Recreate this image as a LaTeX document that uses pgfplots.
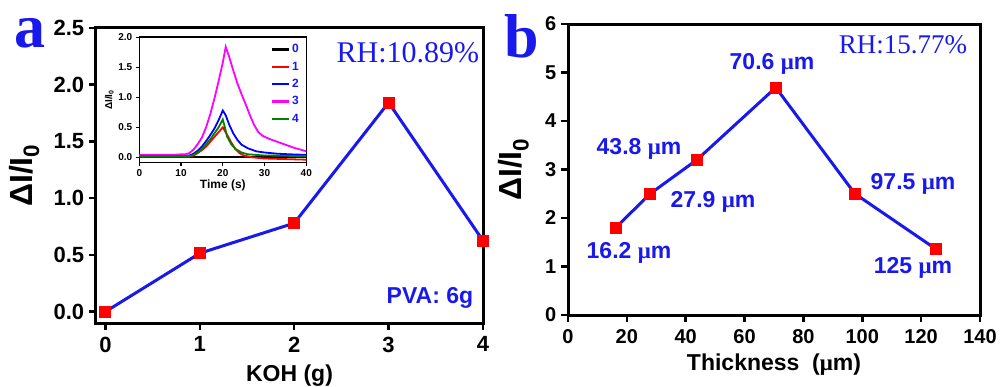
\documentclass[border=0pt]{standalone}
\usepackage{fontspec}
\setmainfont{Liberation Sans}
\newfontfamily\tnr{Liberation Serif}
\usepackage{pgfplots}
\pgfplotsset{compat=1.18}
\definecolor{myblue}{RGB}{25,25,235}
\definecolor{mymag}{RGB}{255,0,255}
\definecolor{mygreen}{RGB}{0,128,0}
\definecolor{myred}{RGB}{255,0,0}
\newcommand{\fs}[1]{\fontsize{#1}{#1}\selectfont}
\newcommand{\um}{{\tnr\bfseries μ}m}
\pgfplotsset{
  myax/.style={
    scale only axis, anchor=south west, clip=false,
    every axis/.append style={line width=3pt},
    separate axis lines,
    axis line style={line width=3pt, line cap=rect},
    tick align=outside, tick pos=left,
    major tick length=7pt,
    every tick/.style={black, line width=2.5pt},
    /pgf/number format/assume math mode=true,
    ticklabel style={font=\bfseries\fs{22}},
    label style={font=\bfseries\fs{23}},
  }
}
\begin{document}
\begin{tikzpicture}[x=1pt,y=1pt]
\useasboundingbox (0,0) rectangle (1006,386);
% panel a
\begin{axis}[myax, at={(96pt,63pt)}, width=387pt, height=295pt,
  xmin=-0.1, xmax=4, ymin=-0.1, ymax=2.5,
  xtick={0,1,2,3,4}, ytick={0,0.5,1,1.5,2,2.5},
  yticklabel style={/pgf/number format/.cd, fixed, fixed zerofill, precision=1},
  xticklabel style={yshift=-2pt},
  xlabel={KOH (g)},
  ylabel={\fs{32}ΔI/I\textsubscript{0}},
  ylabel style={yshift=6pt},
  xlabel style={yshift=-4pt},
]
\addplot[myblue, line width=3pt, mark=square*, mark size=5.5pt,
  mark options={myred, draw=myred, line width=1pt}] coordinates {
(0,0.0) (1,0.515) (2,0.78) (3,1.843) (4,0.626)};
\node[text=myblue, font=\tnr\fs{30}] at (rel axis cs:0.806,0.915) {RH:10.89\%};
\node[text=myblue, font=\bfseries\fs{23}] at (rel axis cs:0.863,0.085) {PVA: 6g};
\end{axis}
% inset
\begin{axis}[myax, at={(139.3pt,223.3pt)}, width=167pt, height=125.4pt,
  axis background/.style={fill=white},
  every axis/.append style={line width=1.6pt},
  axis line style={line width=1.6pt, line cap=rect},
  every tick/.style={black, line width=1.2pt},
  major tick length=3pt,
  xmin=0, xmax=40, ymin=-0.09, ymax=2.0,
  xtick={0,10,20,30,40}, ytick={0,0.5,1,1.5,2},
  ticklabel style={font=\bfseries\fs{10}},
  yticklabel style={/pgf/number format/.cd, fixed, fixed zerofill, precision=1},
  xlabel={Time (s)}, ylabel={ΔI/I\textsubscript{0}},
  xlabel style={font=\bfseries\fs{12}, yshift=5pt},
  ylabel style={font=\bfseries\fs{10}, yshift=-3pt},
  legend style={draw=none, fill=none, text=myblue, font=\bfseries\fs{12},
    at={(rel axis cs:0.99,0.98)}, anchor=north east, row sep=3.5pt},
  legend image code/.code={\draw[#1, line width=2.2pt] (0pt,0pt) -- (17pt,0pt);},
]
\addplot[black, line width=1.8pt] coordinates {(0,0) (40,0)};
\addplot[myred, line width=1.8pt] coordinates {
(0,0.01) (10,0.01) (12,0.01) (13,0.03) (14,0.07) (15,0.12) (16,0.18) (17,0.26) (18,0.34) (19,0.42) (20,0.50) (21,0.38) (22,0.25) (23,0.14) (24,0.07) (25,0.03) (27,0.0) (30,-0.02) (35,-0.03) (40,-0.04)};
\addplot[blue, line width=1.8pt] coordinates {
(0,0.03) (10,0.03) (12,0.03) (13,0.06) (14,0.11) (15,0.18) (16,0.27) (17,0.37) (18,0.48) (19,0.62) (20,0.78) (20.7,0.70) (21.5,0.55) (22.5,0.40) (23.5,0.29) (24.5,0.21) (26,0.15) (28,0.10) (30,0.08) (33,0.06) (36,0.05) (40,0.04)};
\addplot[mymag, line width=1.8pt] coordinates {
(0,0.04) (5,0.04) (8,0.04) (10,0.05) (11,0.05) (12,0.07) (13,0.13) (14,0.22) (15,0.33) (16,0.50) (17,0.72) (18,0.98) (19,1.27) (20,1.58) (20.7,1.84) (21.5,1.68) (22.5,1.45) (23.5,1.23) (24.5,1.05) (25.5,0.88) (26.5,0.70) (27.5,0.54) (28.5,0.42) (29.5,0.36) (31,0.31) (33,0.26) (35,0.21) (37,0.16) (40,0.10)};
\addplot[mygreen, line width=1.8pt] coordinates {
(0,0.02) (10,0.02) (12,0.02) (13,0.04) (14,0.08) (15,0.14) (16,0.22) (17,0.30) (18,0.40) (19,0.50) (20,0.63) (20.5,0.50) (21,0.35) (22,0.22) (23,0.14) (24.5,0.08) (26,0.05) (30,0.03) (40,0.02)};
\legend{0,1,2,3,4}
\end{axis}
% panel b
\begin{axis}[myax, at={(568pt,71pt)}, width=412pt, height=291pt,
  xmin=0, xmax=140, ymin=0, ymax=6,
  xtick={0,20,...,140}, ytick={0,1,...,6},
  ticklabel style={font=\bfseries\fs{20}},
  xticklabel style={yshift=-3pt},
  xlabel={Thickness\ \ (\um)},
  ylabel={\fs{32}ΔI/I\textsubscript{0}},
  ylabel style={yshift=8pt},
  xlabel style={yshift=-2pt},
]
\addplot[myblue, line width=3pt, mark=square*, mark size=5.5pt,
  mark options={myred, draw=myred, line width=1pt}] coordinates {
(16.2,1.8) (27.9,2.5) (43.8,3.2) (70.6,4.69) (97.5,2.5) (125,1.36)};
\end{axis}
\node[text=myblue, font=\tnr\bfseries\fs{62}, anchor=base] at (30,338) {a};
\node[text=myblue, font=\tnr\bfseries\fs{62}, anchor=base] at (522,328) {b};
\begin{scope}[every node/.style={text=myblue, font=\bfseries\fs{23}}]
\node at (772,322) {70.6 \um};
\node at (639,237) {43.8 \um};
\node at (713,184) {27.9 \um};
\node at (629,133) {16.2 \um};
\node at (913,202) {97.5 \um};
\node at (913,118) {125 \um};
\node[font=\tnr\fs{27}] at (903,341) {RH:15.77\%};
\end{scope}
\end{tikzpicture}
\end{document}
